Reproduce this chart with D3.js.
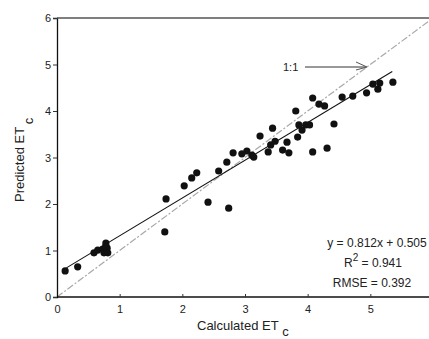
<!DOCTYPE html>
<html>
<head>
<meta charset="utf-8">
<script src="https://cdn.jsdelivr.net/npm/d3@7"></script>
<style>
  body { margin: 0; background: #fff; }
  svg { display: block; font-family: "Liberation Sans", Arial, sans-serif; }
</style>
</head>
<body>
<div id="chart"></div>
<script>
// calculated vs predicted ETc
const calcET = [0.13, 0.33, 0.59, 0.65, 0.73, 0.78, 0.80, 0.81, 0.75, 0.78,
  1.72, 1.74, 2.03, 2.15, 2.23, 2.41, 2.58, 2.71, 2.74,
  2.81, 2.95, 3.03, 3.11, 3.14, 3.24, 3.37, 3.41, 3.44, 3.48, 3.60, 3.67, 3.70,
  3.81, 3.86, 3.91, 3.97, 4.03, 3.84, 4.08, 4.08, 4.18, 4.27, 4.31, 4.42,
  4.55, 4.72, 4.94, 5.04, 5.12, 5.15, 5.36];
const predET = [0.56, 0.65, 0.95, 1.01, 1.03, 1.16, 1.05, 0.95, 0.95, 1.10,
  1.40, 2.11, 2.39, 2.56, 2.67, 2.04, 2.71, 2.90, 1.91,
  3.10, 3.08, 3.14, 3.05, 3.01, 3.46, 3.12, 3.27, 3.63, 3.35, 3.16, 3.33, 3.10,
  4.00, 3.70, 3.59, 3.70, 3.70, 3.44, 3.12, 4.28, 4.15, 4.11, 3.20, 3.72,
  4.30, 4.32, 4.39, 4.58, 4.47, 4.60, 4.62];
const xTicks = [0, 1, 2, 3, 4, 5];
const yTicks = [0, 1, 2, 3, 4, 5, 6];
const slope = 0.812, intercept = 0.505;
const fitRange = [0.15, 5.35];
const eqText = "y = 0.812x + 0.505";
const r2Text = "0.941";
const rmseText = "RMSE = 0.392";

const width = 429, height = 339;
const x = d3.scaleLinear().domain([0, 6]).range([57, 433]);
const y = d3.scaleLinear().domain([0, 6]).range([297, 18]);

const svg = d3.select("#chart").append("svg")
  .attr("width", width).attr("height", height);

// 1:1 line
svg.append("line")
  .attr("x1", x(0)).attr("y1", y(0))
  .attr("x2", x(6)).attr("y2", y(6))
  .attr("stroke", "#a8a8a8")
  .attr("stroke-width", 1.2)
  .attr("stroke-dasharray", "7,2,2,2");

// regression line
svg.append("line")
  .attr("x1", x(fitRange[0])).attr("y1", y(slope * fitRange[0] + intercept))
  .attr("x2", x(fitRange[1])).attr("y2", y(slope * fitRange[1] + intercept))
  .attr("stroke", "#111")
  .attr("stroke-width", 1.1);

// points
svg.selectAll(".pt")
  .data(calcET.map((d, i) => [d, predET[i]]))
  .enter()
  .append("circle")
  .attr("class", "pt")
  .attr("cx", d => x(d[0]))
  .attr("cy", d => y(d[1]))
  .attr("r", 3.6)
  .attr("fill", "#111");

// axes
const xAxis = svg.append("g")
  .attr("transform", `translate(0,${y(0)})`)
  .call(d3.axisBottom(x).tickValues(xTicks).tickSize(3).tickFormat(d3.format("d")));
const yAxis = svg.append("g")
  .attr("transform", `translate(${x(0)},0)`)
  .call(d3.axisLeft(y).tickValues(yTicks).tickSize(4).tickFormat(d3.format("d")));

[xAxis, yAxis].forEach(g => {
  g.select(".domain").attr("stroke", "#111").attr("stroke-width", 1.3);
  g.selectAll(".tick line").attr("stroke", "#333");
  g.selectAll("text").attr("font-size", 11).attr("fill", "#222")
    .attr("font-family", "Liberation Sans, Arial, sans-serif");
});
xAxis.select(".domain").attr("d", `M${x(0)},0H${width}`);
xAxis.selectAll(".tick line").attr("y2", -3);
xAxis.selectAll("text").attr("dy", "0.9em");
yAxis.selectAll("text").attr("x", -6);

// top frame line
svg.append("line")
  .attr("x1", x(0)).attr("y1", y(6))
  .attr("x2", width).attr("y2", y(6))
  .attr("stroke", "#555").attr("stroke-width", 1.3);

// axis titles
const xt = svg.append("text")
  .attr("x", 197).attr("y", 330)
  .attr("font-size", 13).attr("fill", "#222");
xt.append("tspan").text("Calculated ET");
xt.append("tspan").attr("dx", 5).attr("dy", 6).text("c");

const yt = svg.append("text")
  .attr("transform", "translate(24,202) rotate(-90)")
  .attr("font-size", 13).attr("fill", "#222");
yt.append("tspan").text("Predicted ET");
yt.append("tspan").attr("dx", 4).attr("dy", 9).text("c");

// 1:1 label with arrow
svg.append("text")
  .attr("x", 283).attr("y", 71)
  .attr("font-size", 11).attr("fill", "#222")
  .text("1:1");
svg.append("line")
  .attr("x1", 305).attr("y1", 67).attr("x2", 366).attr("y2", 67)
  .attr("stroke", "#333").attr("stroke-width", 1);
svg.append("path")
  .attr("d", "M356,62L367,67L356,70")
  .attr("fill", "none").attr("stroke", "#555").attr("stroke-width", 1);

// stats
const stats = svg.append("g").attr("font-size", 12).attr("fill", "#222")
  .attr("text-anchor", "middle");
stats.append("text").attr("x", 377).attr("y", 247).text(eqText);
const r2 = stats.append("text").attr("x", 373).attr("y", 267);
r2.append("tspan").text("R");
r2.append("tspan").attr("dy", -6).attr("font-size", 10).text("2");
r2.append("tspan").attr("dy", 6).text(" = " + r2Text);
stats.append("text").attr("x", 372).attr("y", 287).text(rmseText);
</script>
</body>
</html>
